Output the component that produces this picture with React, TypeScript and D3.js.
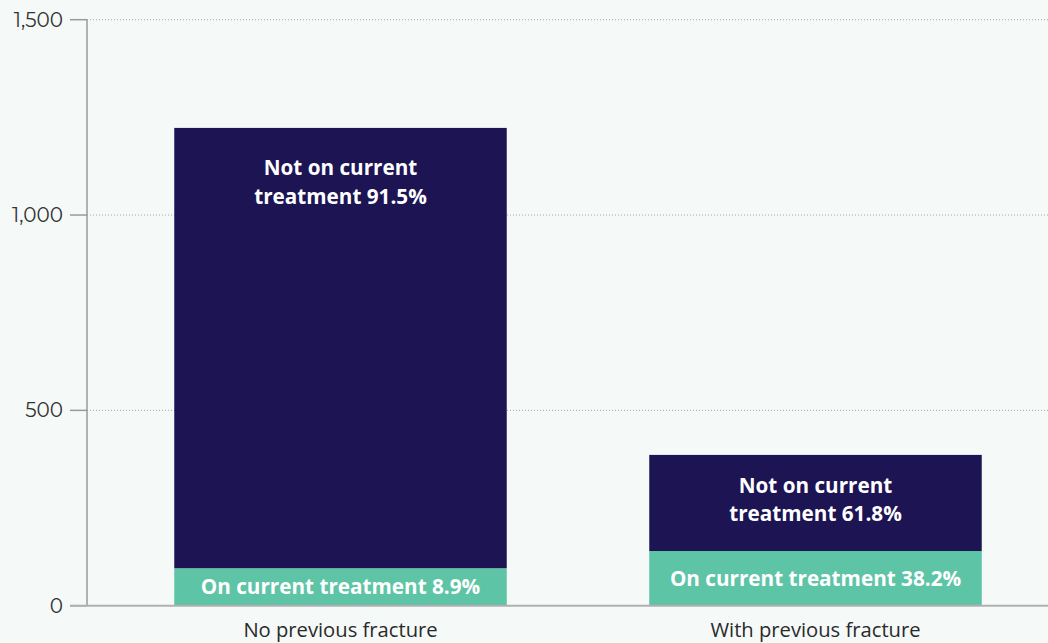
import React from "react";
import * as d3 from "d3";

const categories = ["No previous fracture", "With previous fracture"];
const onTreatment = [96, 140];
const notOnTreatment = [1127, 246];
const onLabels = ["On current treatment 8.9%", "On current treatment 38.2%"];
const notOnLabels = [
  ["Not on current", "treatment 91.5%"],
  ["Not on current", "treatment 61.8%"],
];
const yTicks = [0, 500, 1000, 1500];

const W = 1048;
const H = 643;
const NAVY = "#1d1454";
const GREEN = "#5ec4a6";
const BG = "#f5f9f8";

export default function App() {
  const y = d3.scaleLinear().domain([0, 1500]).range([605.7, 19.7]);
  const x = d3
    .scaleBand<string>()
    .domain(categories)
    .range([103, 1053])
    .paddingInner(0.3)
    .paddingOuter(0.15);
  const fmt = d3.format(",");
  const axisX = 87;

  return (
    <svg
      width={W}
      height={H}
      style={{ position: "absolute", left: 0, top: 0, background: BG }}
    >
      <rect x={0} y={0} width={W} height={H} fill={BG} />
      {yTicks.map((t) => (
        <g key={t}>
          {t > 0 && (
            <line
              x1={axisX}
              x2={W}
              y1={y(t)}
              y2={y(t)}
              stroke="#a8a8a8"
              strokeWidth={1}
              strokeDasharray="1,2"
            />
          )}
          <line x1={70} x2={axisX} y1={y(t)} y2={y(t)} stroke="#9a9a9a" strokeWidth={1.5} />
          <text
            x={63}
            y={y(t)}
            dy="0.35em"
            textAnchor="end"
            fontFamily="Montserrat, 'Open Sans', sans-serif"
            fontSize={20}
            fill="#333"
          >
            {fmt(t)}
          </text>
        </g>
      ))}
      <line x1={axisX} x2={axisX} y1={y(1500)} y2={y(0)} stroke="#9a9a9a" strokeWidth={1.5} />
      {categories.map((c, i) => {
        const x0 = x(c)!;
        const bw = x.bandwidth();
        const cx = x0 + bw / 2;
        const g0 = y(onTreatment[i]);
        const total = onTreatment[i] + notOnTreatment[i];
        const n0 = y(total);
        const navyH = g0 - n0;
        const labelTop = navyH > 200 ? n0 + 40 : (n0 + g0) / 2 - 17.5;
        return (
          <g key={c}>
            <rect x={x0} y={g0} width={bw} height={y(0) - g0} fill={GREEN} />
            <rect x={x0} y={n0} width={bw} height={navyH} fill={NAVY} />
            <text
              x={cx}
              y={(g0 + y(0)) / 2}
              dy="0.35em"
              textAnchor="middle"
              fontFamily="'Open Sans', sans-serif"
              fontWeight={700}
              fontSize={20.7}
              fill="#fff"
            >
              {onLabels[i]}
            </text>
            {notOnLabels[i].map((l, j) => (
              <text
                key={j}
                x={cx}
                y={labelTop + j * 28.5}
                dy="0.35em"
                textAnchor="middle"
                fontFamily="'Open Sans', sans-serif"
                fontWeight={700}
                fontSize={20.7}
                fill="#fff"
              >
                {l}
              </text>
            ))}
            <text
              x={cx}
              y={630}
              dy="0.35em"
              textAnchor="middle"
              fontFamily="'Open Sans', sans-serif"
              fontSize={20.2}
              fill="#2a2a2a"
            >
              {c}
            </text>
          </g>
        );
      })}
      <line x1={70} x2={W} y1={y(0)} y2={y(0)} stroke="#b0b0b0" strokeWidth={2} />
    </svg>
  );
}
